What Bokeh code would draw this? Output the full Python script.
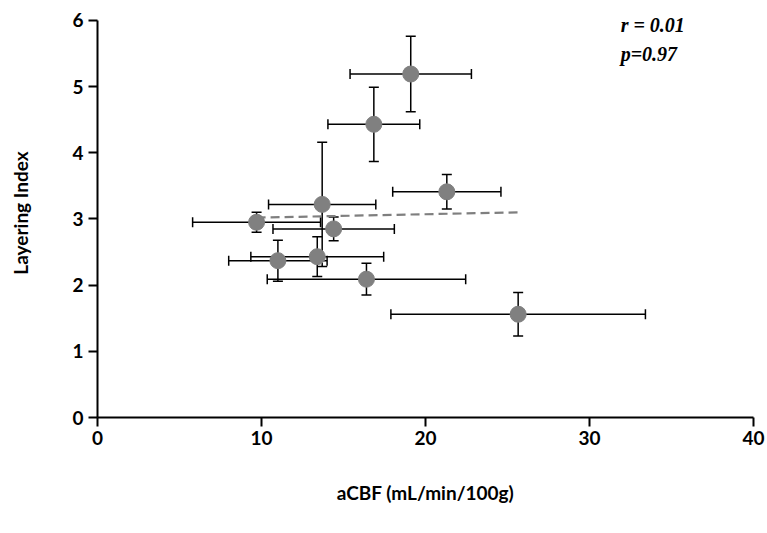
from bokeh.plotting import figure
from bokeh.models import Range1d, FixedTicker, ColumnDataSource, Whisker, TeeHead, Label
from bokeh.embed import file_html
from bokeh.resources import INLINE

# data
acbf = [19.1, 16.85, 13.7, 21.3, 9.7, 14.4, 11.0, 13.4, 16.4, 25.65]
acbf_err = [3.7, 2.8, 3.27, 3.3, 3.9, 3.7, 3.0, 4.05, 6.05, 7.76]
layering = [5.19, 4.43, 3.22, 3.41, 2.95, 2.85, 2.37, 2.43, 2.09, 1.56]
layering_err = [0.57, 0.56, 0.94, 0.26, 0.15, 0.18, 0.31, 0.30, 0.24, 0.33]
trend_x = [9.7, 25.65]
trend_y = [3.02, 3.10]
x_ticks = [0, 10, 20, 30, 40]
y_ticks = [0, 1, 2, 3, 4, 5, 6]
stats_r = "r = 0.01"
stats_p = "p=0.97"

src = ColumnDataSource(dict(
    x=acbf, y=layering,
    xl=[a - e for a, e in zip(acbf, acbf_err)],
    xu=[a + e for a, e in zip(acbf, acbf_err)],
    yl=[a - e for a, e in zip(layering, layering_err)],
    yu=[a + e for a, e in zip(layering, layering_err)],
))

p = figure(width=767, height=533, output_backend="svg", toolbar_location=None,
           x_range=Range1d(0, 40), y_range=Range1d(0, 6.18),
           min_border_left=97, min_border_right=14, min_border_top=8, min_border_bottom=116)
p.outline_line_color = None
p.xgrid.visible = False
p.ygrid.visible = False

font = "Lato"
for ax, ticks in ((p.xaxis[0], x_ticks), (p.yaxis[0], y_ticks)):
    ax.ticker = FixedTicker(ticks=ticks)
    ax.axis_line_width = 2
    ax.axis_line_color = "black"
    ax.major_tick_line_width = 2
    ax.major_tick_line_color = "black"
    ax.major_tick_out = 9
    ax.major_tick_in = 0
    ax.minor_tick_line_color = None
    ax.major_label_text_font = font
    ax.major_label_text_font_style = "bold"
    ax.major_label_text_font_size = "19px"
    ax.major_label_text_color = "black"
    ax.axis_label_text_font = font
    ax.axis_label_text_font_style = "bold"
    ax.axis_label_text_font_size = "19px"
    ax.axis_label_text_color = "black"

p.yaxis.bounds = (0, 6)
p.xaxis.axis_label = "aCBF (mL/min/100g)"
p.yaxis.axis_label = "Layering Index"
p.xaxis.major_label_standoff = 4
p.yaxis.major_label_standoff = 5
p.xaxis.axis_label_standoff = 33
p.yaxis.axis_label_standoff = 37

p.line(trend_x, trend_y, line_color="#7f7f7f", line_width=2.2, line_dash="9 5")

wx = Whisker(source=src, base="y", lower="xl", upper="xu", dimension="width",
             line_color="black", line_width=1.5,
             upper_head=TeeHead(size=10, line_color="black", line_width=1.5),
             lower_head=TeeHead(size=10, line_color="black", line_width=1.5))
wy = Whisker(source=src, base="x", lower="yl", upper="yu", dimension="height",
             line_color="black", line_width=1.5,
             upper_head=TeeHead(size=10, line_color="black", line_width=1.5),
             lower_head=TeeHead(size=10, line_color="black", line_width=1.5))
wx.level = "underlay"
wy.level = "underlay"
p.add_layout(wx)
p.add_layout(wy)

p.scatter("x", "y", source=src, size=16, fill_color="#808080", line_color="#808080")

for txt, yy in ((stats_r, 5.93), (stats_p, 5.50)):
    p.add_layout(Label(x=31.9, y=yy, text=txt,
                       text_font="Liberation Serif", text_font_style="bold italic",
                       text_font_size="20px", text_color="black", text_baseline="middle"))

open("out.html", "w").write(file_html(p, INLINE))
